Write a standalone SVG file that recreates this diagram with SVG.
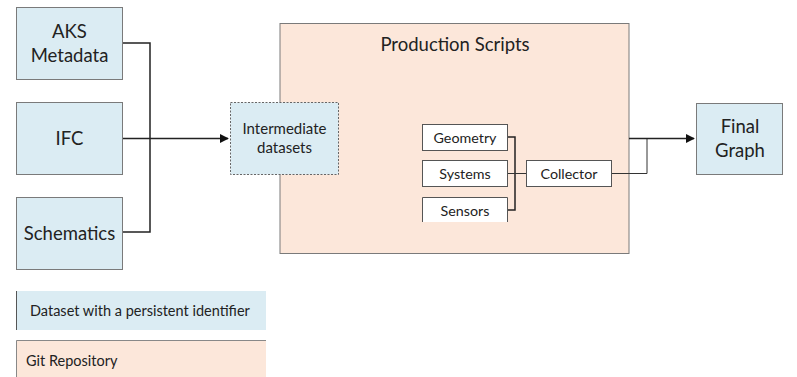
<svg xmlns="http://www.w3.org/2000/svg" width="797" height="377" viewBox="0 0 797 377">
  <style>
    text { font-family: Lato, "Open Sans", sans-serif; fill: #222; }
    .ds { fill: #DBECF3; stroke: #7a7a7a; stroke-width: 1; }
    .repo { fill: #FCE7DA; stroke: #7a7a7a; stroke-width: 1; }
    .step { fill: #ffffff; stroke: #555; stroke-width: 1; }
    .big { font-size: 18.5px; text-anchor: middle; }
    .mid { font-size: 15px; text-anchor: middle; }
    .small { font-size: 14.3px; text-anchor: middle; }
    .leg { font-size: 14.5px; }
    .wire { fill: none; stroke: #222; stroke-width: 1.5; }
    .thin { fill: none; stroke: #333; stroke-width: 1; }
  </style>
  <defs>
    <marker id="arrow" viewBox="0 0 10 10" refX="9" refY="5" markerWidth="6" markerHeight="6" orient="auto">
      <path d="M0,0 L10,5 L0,10 z" fill="#111"/>
    </marker>
  </defs>

  <!-- repository container -->
  <g id="production-scripts">
    <rect class="repo" x="280" y="23.5" width="349" height="230"/>
    <text class="big" x="455" y="51">Production Scripts</text>
  </g>

  <g id="aks-metadata">
    <rect class="ds" x="16.5" y="7.5" width="106" height="72"/>
    <text class="big" x="69.5" y="38">AKS</text>
    <text class="big" x="69.5" y="62">Metadata</text>
  </g>
  <g id="ifc">
    <rect class="ds" x="16.5" y="102.5" width="106" height="72"/>
    <text class="big" x="69.5" y="145">IFC</text>
  </g>
  <g id="schematics">
    <rect class="ds" x="16.5" y="197.5" width="106" height="72"/>
    <text class="big" x="69.5" y="240">Schematics</text>
  </g>

  <g id="intermediate-datasets">
    <rect x="230.5" y="102.5" width="108" height="72" fill="#DBECF3" stroke="#666" stroke-width="1" stroke-dasharray="2,1.5"/>
    <text class="mid" x="284.5" y="134">Intermediate</text>
    <text class="mid" x="284.5" y="153">datasets</text>
  </g>

  <g id="geometry">
    <rect class="step" x="422.5" y="124.5" width="85" height="26"/>
    <text class="small" x="465" y="142.5">Geometry</text>
  </g>
  <g id="systems">
    <rect class="step" x="422.5" y="160.5" width="85" height="26"/>
    <text class="small" x="465" y="178.5">Systems</text>
  </g>
  <g id="sensors">
    <path d="M422.5,222 V197.5 H507.5 V222" fill="#fff" stroke="#555" stroke-width="1"/>
    <rect x="423" y="198" width="84" height="24" fill="#fff"/>
    <text class="small" x="465" y="215.5">Sensors</text>
  </g>
  <g id="collector">
    <rect class="step" x="526.5" y="160.5" width="85" height="26"/>
    <text class="small" x="569" y="178.5">Collector</text>
  </g>

  <g id="final-graph">
    <rect class="ds" x="696.5" y="103.5" width="86" height="71"/>
    <text class="big" x="740" y="133">Final</text>
    <text class="big" x="740" y="157">Graph</text>
  </g>

  <g id="connectors">
    <path class="wire" d="M123,43 H150 V232 H123"/>
    <path class="wire" d="M123,138.5 H228" marker-end="url(#arrow)"/>
    <path class="wire" d="M508,137 H515 V210 H508"/>
    <path class="thin" d="M508,173.5 H526"/>
    <path class="thin" d="M612,173.5 H647 V138"/>
    <path class="wire" d="M629,138.5 H694" marker-end="url(#arrow)"/>
  </g>

  <!-- legend -->
  <g id="legend-dataset">
    <rect x="16" y="291" width="250" height="39" fill="#DBECF3"/>
    <path d="M16.5,291 V330" stroke="#555" stroke-width="1"/>
    <text class="leg" x="30" y="315.5">Dataset with a persistent identifier</text>
  </g>
  <g id="legend-repository">
    <rect x="16" y="340" width="250" height="37" fill="#FCE7DA"/>
    <path d="M16.5,377 V340.5 H266" fill="none" stroke="#888" stroke-width="1"/>
    <text class="leg" x="26" y="365.5">Git Repository</text>
  </g>
</svg>
